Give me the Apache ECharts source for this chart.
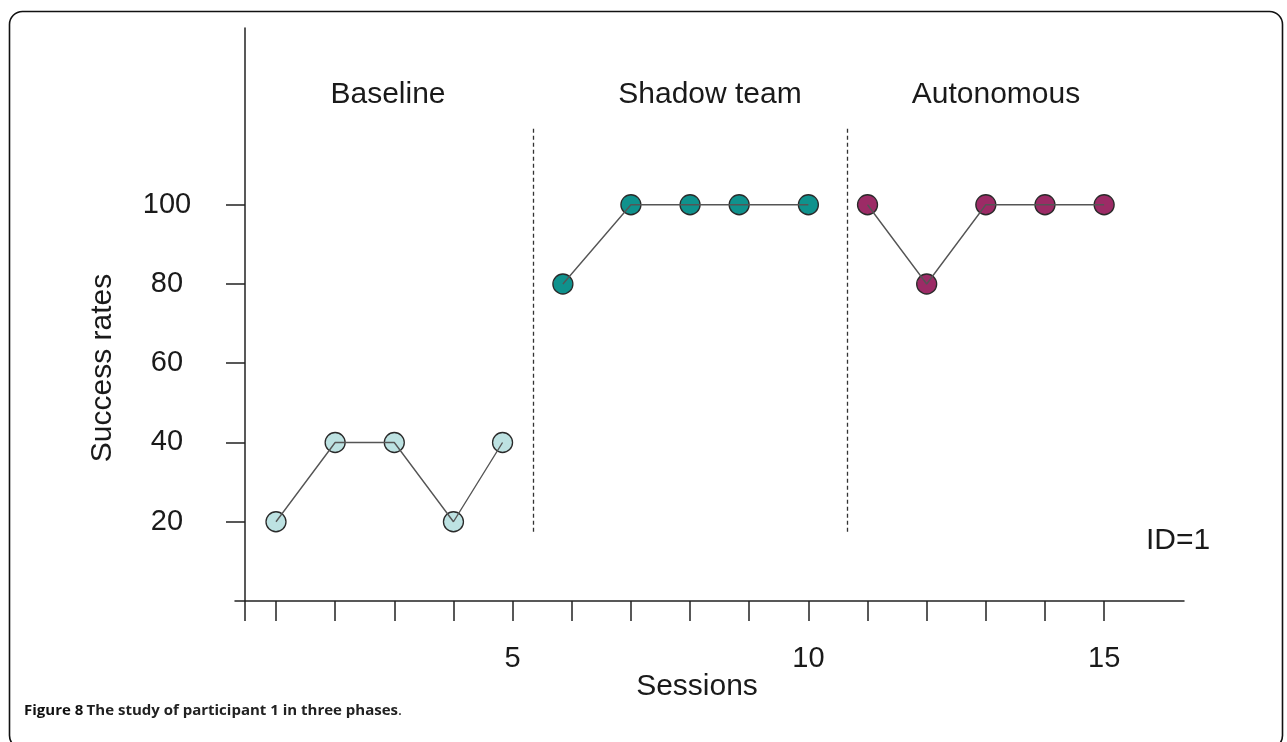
<!DOCTYPE html>
<html>
<head>
<meta charset="utf-8">
<script src="https://cdn.jsdelivr.net/npm/echarts@6/dist/echarts.min.js"></script>
<style>
html,body{margin:0;padding:0;background:#fff;}
#chart{width:1287px;height:742px;}
</style>
</head>
<body>
<div id="chart"></div>
<script>
// ---- data ----
const baselineX = [1, 2, 3, 4, 4.83];
const baselineY = [20, 40, 40, 20, 40];
const shadowX = [5.85, 7, 8, 8.83, 10];
const shadowY = [80, 100, 100, 100, 100];
const autoX = [11, 12, 13, 14, 15];
const autoY = [100, 80, 100, 100, 100];
const phaseBreaks = [5.35, 10.65];
const phaseNames = ['Baseline', 'Shadow team', 'Autonomous'];
const yTicks = [20, 40, 60, 80, 100];
const xTickValues = [0.476, 1, 2, 3, 4, 5, 6, 7, 8, 9, 10, 11, 12, 13, 14, 15];
const xLabelValues = [5, 10, 15];
const idLabel = 'ID=1';
const xName = 'Sessions';
const yName = 'Success rates';

function pairs(xs, ys) { return xs.map((x, i) => [x, ys[i]]); }

const FONT = '"Liberation Sans", Arial, sans-serif';
const chart = echarts.init(document.getElementById('chart'), null, {renderer: 'canvas'});

const phases = [
  {x: baselineX, y: baselineY, color: '#bde2e2'},
  {x: shadowX, y: shadowY, color: '#0f928d'},
  {x: autoX, y: autoY, color: '#9c2b66'}
];

const series = [];
phases.forEach(p => {
  series.push({
    type: 'scatter',
    data: pairs(p.x, p.y),
    symbol: 'circle',
    symbolSize: 20,
    itemStyle: {color: p.color, borderColor: '#2a2a2a', borderWidth: 1.3, opacity: 1},
    z: 2,
    silent: true
  });
  series.push({
    type: 'line',
    data: pairs(p.x, p.y),
    showSymbol: false,
    symbol: 'none',
    lineStyle: {color: '#555', width: 1.4},
    z: 3,
    silent: true
  });
});
series.push({
  type: 'line',
  data: [],
  markLine: {
    symbol: 'none',
    silent: true,
    label: {show: false},
    lineStyle: {color: '#333', type: [4, 3], width: 1.3},
    data: phaseBreaks.map(b => [{coord: [b, 17.5]}, {coord: [b, 119.8]}])
  }
});

chart.setOption({
  animation: false,
  backgroundColor: '#fff',
  grid: {left: 235, right: 103, top: 28, bottom: 141, containLabel: false},
  xAxis: {
    type: 'value',
    min: 0.307,
    max: 16.35,
    splitLine: {show: false},
    axisLine: {show: true, onZero: false, lineStyle: {color: '#222', width: 1.5}},
    axisTick: {show: true, length: 20, inside: false, customValues: xTickValues,
      lineStyle: {color: '#222', width: 1.5}},
    axisLabel: {show: true, customValues: xLabelValues, margin: 43,
      fontFamily: FONT, fontSize: 29, color: '#1a1a1a'}
  },
  yAxis: {
    type: 'value',
    min: 0,
    max: 144.6,
    offset: -10,
    splitLine: {show: false},
    axisLine: {show: true, onZero: false, lineStyle: {color: '#222', width: 1.5}},
    axisTick: {show: true, length: 19, inside: false, customValues: yTicks,
      lineStyle: {color: '#222', width: 1.5}},
    axisLabel: {show: true, customValues: yTicks, margin: 78, align: 'center',
      fontFamily: FONT, fontSize: 29, color: '#1a1a1a'}
  },
  series: series,
  graphic: [
    {type: 'rect', shape: {x: 9.5, y: 11.5, width: 1273, height: 737, r: 13},
      style: {fill: 'none', stroke: '#111', lineWidth: 1.6}, silent: true, z: 0},
    {type: 'text', x: 388, y: 95, style: {text: phaseNames[0], font: '30px ' + FONT, fill: '#1a1a1a', align: 'center', verticalAlign: 'middle'}},
    {type: 'text', x: 710, y: 95, style: {text: phaseNames[1], font: '30px ' + FONT, fill: '#1a1a1a', align: 'center', verticalAlign: 'middle'}},
    {type: 'text', x: 996, y: 95, style: {text: phaseNames[2], font: '30px ' + FONT, fill: '#1a1a1a', align: 'center', verticalAlign: 'middle'}},
    {type: 'text', x: 1178, y: 541, style: {text: idLabel, font: '30px ' + FONT, fill: '#1a1a1a', align: 'center', verticalAlign: 'middle'}},
    {type: 'text', x: 697, y: 687, style: {text: xName, font: '30px ' + FONT, fill: '#1a1a1a', align: 'center', verticalAlign: 'middle'}},
    {type: 'text', x: 103, y: 368, rotation: Math.PI / 2, style: {text: yName, font: '30px ' + FONT, fill: '#1a1a1a', align: 'center', verticalAlign: 'middle'}},
    {type: 'text', x: 24, y: 711, style: {
      text: '{b|Figure 8} {m|The study of participant 1 in three phases}{n|.}',
      verticalAlign: 'middle', align: 'left',
      rich: {
        b: {fontFamily: '"Open Sans", sans-serif', fontWeight: 'bold', fontSize: 15, fill: '#111'},
        m: {fontFamily: '"Open Sans", sans-serif', fontWeight: 'bold', fontSize: 15, fill: '#222'},
        n: {fontFamily: '"Open Sans", sans-serif', fontWeight: 'normal', fontSize: 15, fill: '#222'}
      }
    }}
  ]
});
</script>
</body>
</html>
